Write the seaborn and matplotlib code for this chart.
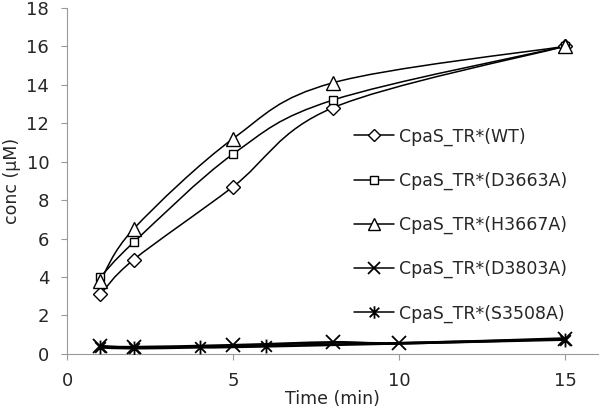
import numpy as np
import matplotlib
matplotlib.use('Agg')
import matplotlib.pyplot as plt
import seaborn as sns
from matplotlib.path import Path
from matplotlib.patches import PathPatch
from matplotlib.lines import Line2D

labels = ['CpaS_TR*(WT)', 'CpaS_TR*(D3663A)', 'CpaS_TR*(H3667A)',
          'CpaS_TR*(D3803A)', 'CpaS_TR*(S3508A)']

time_wt = [1, 2, 5, 8, 15]
conc_wt = [3.1, 4.9, 8.7, 12.8, 16.0]

time_d3663a = [1, 2, 5, 8, 15]
conc_d3663a = [4.0, 5.8, 10.4, 13.2, 16.0]

time_h3667a = [1, 2, 5, 8, 15]
conc_h3667a = [3.8, 6.5, 11.2, 14.1, 16.0]

time_d3803a = [1, 2, 5, 8, 10, 15]
conc_d3803a = [0.4, 0.35, 0.45, 0.6, 0.55, 0.8]

time_s3508a = [1, 2, 4, 6, 15]
conc_s3508a = [0.35, 0.3, 0.35, 0.4, 0.75]

times = [time_wt, time_d3663a, time_h3667a, time_d3803a, time_s3508a]
concs = [conc_wt, conc_d3663a, conc_h3667a, conc_d3803a, conc_s3508a]

star = Path([(-1, -1), (1, 1), (-1, 1), (1, -1), (0, -1.3), (0, 1.3)],
            [Path.MOVETO, Path.LINETO, Path.MOVETO, Path.LINETO, Path.MOVETO, Path.LINETO])
styles = [
    dict(marker='D', markersize=7, markerfacecolor='white'),
    dict(marker='s', markersize=6, markerfacecolor='white'),
    dict(marker='^', markersize=9.5, markerfacecolor='white'),
    dict(marker='x', markersize=10, markeredgewidth=1.3),
    dict(marker=star, markersize=10, markeredgewidth=1.3),
]
lws = [1.1, 1.1, 1.1, 2.0, 2.0]


def smooth_path(xs, ys):
    # Excel-like smoothed line: Catmull-Rom segments as cubic Bezier curves
    p = np.column_stack([xs, ys]).astype(float)
    ext = np.vstack([p[0], p, p[-1]])
    verts = [tuple(p[0])]
    codes = [Path.MOVETO]
    for i in range(len(p) - 1):
        p0, p1, p2, p3 = ext[i], ext[i + 1], ext[i + 2], ext[i + 3]
        c1 = p1 + (p2 - p0) / 6
        c2 = p2 - (p3 - p1) / 6
        verts += [tuple(c1), tuple(c2), tuple(p2)]
        codes += [Path.CURVE4] * 3
    return Path(verts, codes)


sns.set_style('white')
plt.rcParams['font.family'] = ['DejaVu Sans']

fig, ax = plt.subplots(figsize=(6, 4.13), dpi=100)
fig.subplots_adjust(left=0.112, right=0.997, bottom=0.143, top=0.981)

handles = []
for t, c, st, lw, lab in zip(times, concs, styles, lws, labels):
    ax.add_patch(PathPatch(smooth_path(t, c), facecolor='none',
                           edgecolor='black', lw=lw, zorder=2))
    ax.plot(t, c, linestyle='none', color='black', markeredgecolor='black',
            zorder=3, **st)
    hst = dict(st)
    hst['markersize'] = st['markersize'] * 0.9
    handles.append(Line2D([], [], color='black', lw=1.1,
                          markeredgecolor='black', label=lab, **hst))

ax.set_xlim(0, 16)
ax.set_ylim(0, 18)
ax.set_xticks([0, 5, 10, 15])
ax.set_yticks(range(0, 19, 2))
ax.tick_params(axis='both', labelsize=13, direction='out', length=4,
               color='#999999', width=0.8, left=True, bottom=True, pad=9)
ax.set_xlabel('Time (min)', fontsize=12.5, labelpad=0)
ax.set_ylabel('conc (µM)', fontsize=12.5, labelpad=4)
sns.despine(ax=ax)
for s in ['left', 'bottom']:
    ax.spines[s].set_color('#999999')
    ax.spines[s].set_linewidth(0.8)

ax.legend(handles=handles, loc='upper left', bbox_to_anchor=(0.51, 0.7),
          frameon=False, fontsize=12.5, labelspacing=1.5, handlelength=2.3,
          handletextpad=0.3)

fig.savefig('out.png')
